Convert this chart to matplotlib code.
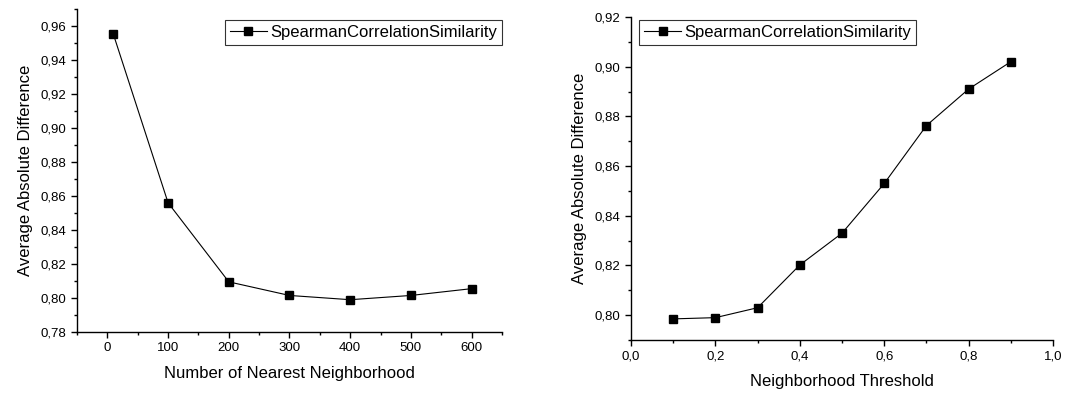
import matplotlib
matplotlib.use('Agg')
import matplotlib.pyplot as plt
from matplotlib.ticker import MultipleLocator, FuncFormatter

# left panel: number of nearest neighbours
knn_x = [10, 100, 200, 300, 400, 500, 600]
knn_y = [0.955, 0.856, 0.8095, 0.8015, 0.799, 0.8015, 0.8055]

# right panel: neighbourhood threshold
thr_x = [0.1, 0.2, 0.3, 0.4, 0.5, 0.6, 0.7, 0.8, 0.9]
thr_y = [0.7985, 0.799, 0.803, 0.8202, 0.833, 0.853, 0.8763, 0.891, 0.902]

series_name = 'SpearmanCorrelationSimilarity'

plt.rcParams['font.family'] = ['Liberation Sans', 'DejaVu Sans']

fig = plt.figure(figsize=(10.91, 3.96), dpi=100)


def comma(v, pos, nd):
    return f'{v:.{nd}f}'.replace('.', ',')


def style_axes(ax):
    for s in ['top', 'right']:
        ax.spines[s].set_visible(False)
    for s in ['left', 'bottom']:
        ax.spines[s].set_linewidth(1.0)
    ax.tick_params(which='major', direction='out', length=4, width=1, labelsize=9.5, colors='black')
    ax.tick_params(which='minor', direction='out', length=2.5, width=1)


# --- left plot ---
ax1 = fig.add_axes([0.0706, 0.1616, 0.3895, 0.8157])
ax1.plot(knn_x, knn_y, color='black', lw=0.8, marker='s', ms=6, label=series_name)
ax1.set_xlim(-50, 650)
ax1.set_ylim(0.78, 0.97)
ax1.xaxis.set_major_locator(MultipleLocator(100))
ax1.xaxis.set_minor_locator(MultipleLocator(50))
ax1.yaxis.set_major_locator(MultipleLocator(0.02))
ax1.yaxis.set_minor_locator(MultipleLocator(0.01))
ax1.yaxis.set_major_formatter(FuncFormatter(lambda v, p: comma(v, p, 2)))
style_axes(ax1)
ax1.set_xlabel('Number of Nearest Neighborhood', fontsize=12, labelpad=8)
ax1.set_ylabel('Average Absolute Difference', fontsize=12, labelpad=6)
leg1 = ax1.legend(loc='upper right', bbox_to_anchor=(1.0, 0.965), fontsize=12, frameon=True,
                  fancybox=False, edgecolor='black', borderpad=0.3, handlelength=2.2,
                  handletextpad=0.2, borderaxespad=0)
leg1.get_frame().set_linewidth(0.8)

# --- right plot ---
ax2 = fig.add_axes([0.5784, 0.1414, 0.3868, 0.8157])
ax2.plot(thr_x, thr_y, color='black', lw=0.8, marker='s', ms=6, label=series_name)
ax2.set_xlim(0, 1.0)
ax2.set_ylim(0.79, 0.92)
ax2.xaxis.set_major_locator(MultipleLocator(0.2))
ax2.xaxis.set_minor_locator(MultipleLocator(0.1))
ax2.yaxis.set_major_locator(MultipleLocator(0.02))
ax2.yaxis.set_minor_locator(MultipleLocator(0.01))
ax2.xaxis.set_major_formatter(FuncFormatter(lambda v, p: comma(v, p, 1)))
ax2.yaxis.set_major_formatter(FuncFormatter(lambda v, p: comma(v, p, 2)))
style_axes(ax2)
ax2.set_xlabel('Neighborhood Threshold', fontsize=12, labelpad=8)
ax2.set_ylabel('Average Absolute Difference', fontsize=12, labelpad=6)
leg2 = ax2.legend(loc='upper left', bbox_to_anchor=(0.02, 0.99), fontsize=12, frameon=True,
                  fancybox=False, edgecolor='black', borderpad=0.3, handlelength=2.2,
                  handletextpad=0.2, borderaxespad=0)
leg2.get_frame().set_linewidth(0.8)

fig.savefig('out.png', dpi=100)
